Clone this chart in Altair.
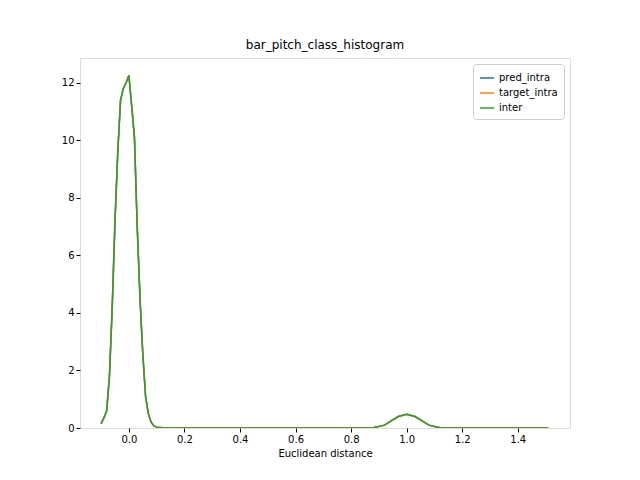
import altair as alt
import pandas as pd

xs = [-0.1, -0.09, -0.08, -0.07, -0.06, -0.05, -0.04, -0.03, -0.02, -0.01, 0.0,
      0.01, 0.02, 0.03, 0.04, 0.05, 0.06, 0.07, 0.08, 0.09, 0.1, 0.12, 0.15,
      0.2, 0.4, 0.6, 0.8, 0.88, 0.92, 0.95, 0.97, 1.0, 1.03, 1.05, 1.08, 1.12, 1.2, 1.4, 1.51]
ys = [0.15, 0.35, 0.6, 1.8, 4.2, 7.2, 9.6, 11.4, 11.8, 12.0, 12.25,
      11.2, 10.1, 7.0, 4.5, 2.6, 1.1, 0.5, 0.2, 0.07, 0.03, 0.01, 0.0,
      0.0, 0.0, 0.0, 0.0, 0.01, 0.1, 0.28, 0.4, 0.48, 0.4, 0.28, 0.1, 0.01, 0.0, 0.0, 0.0]
series = ["pred_intra", "target_intra", "inter"]
colors = ["#1f77b4", "#ff7f0e", "#2ca02c"]

rows = []
for i, s in enumerate(series):
    for x, y in zip(xs, ys):
        rows.append({"x": x, "y": y, "series": s, "order": i})
df = pd.DataFrame(rows)

chart = alt.Chart(df).mark_line(strokeWidth=1.5, clip=True).encode(
    alt.X("x:Q").scale(domain=[-0.176, 1.588], nice=False, zero=False)
        .axis(values=[0, 0.2, 0.4, 0.6, 0.8, 1.0, 1.2, 1.4], format=".1f",
              grid=False, tickColor="black", domain=False, labelColor="black",
              labelFontSize=10, tickSize=4)
        .title("Euclidean distance"),
    alt.Y("y:Q").scale(domain=[0, 12.86], nice=False)
        .axis(values=[0, 2, 4, 6, 8, 10, 12], grid=False, tickColor="black",
              domain=False, labelColor="black", labelFontSize=10, tickSize=4)
        .title(None),
    alt.Color("series:N").scale(domain=series, range=colors)
        .legend(title=None, orient="top-right", strokeColor="#cccccc",
                fillColor="white", padding=6, cornerRadius=3,
                labelFontSize=10, symbolType="stroke", symbolStrokeWidth=1.5,
                symbolSize=200, offset=6),
    order="order:Q",
    detail="series:N",
).properties(
    width=490, height=370,
    title=alt.TitleParams("bar_pitch_class_histogram", fontSize=12,
                          fontWeight="normal", offset=6),
    autosize=alt.AutoSizeParams(type="none"),
    padding={"left": 72, "top": 50, "right": 62, "bottom": 45},
).configure_view(stroke="black", strokeWidth=1).configure(
    font="DejaVu Sans"
).configure_axis(titleFontWeight="normal", titleFontSize=10, titleColor="black")

chart.save("out.html", embed_options={"renderer": "svg", "actions": False})
